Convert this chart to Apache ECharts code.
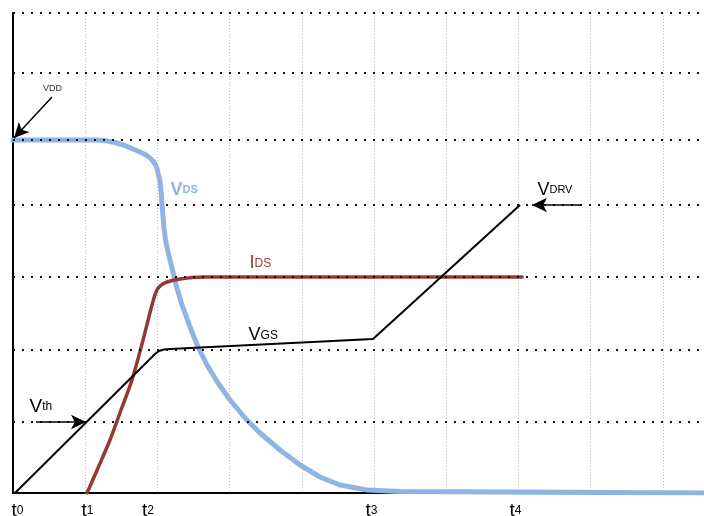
<!DOCTYPE html>
<html><head><meta charset="utf-8">
<script src="https://cdn.jsdelivr.net/npm/echarts@6/dist/echarts.min.js"></script>
<style>html,body{margin:0;padding:0;background:#fff}#c{width:704px;height:516px}</style>
</head><body><div id="c"></div>
<script>
// x unit = one vertical grid division, y unit = arbitrary level
const vdsPoints = [[0,353],[1.163,353],[1.288,352.3],[1.413,350.5],[1.551,347.5],[1.662,344],[1.759,341],[1.842,338],[1.898,335],[1.939,332],[1.967,329],[1.994,325],[2.008,320],[2.029,314],[2.043,308],[2.054,298],[2.064,288],[2.078,276],[2.091,265],[2.112,253],[2.147,241],[2.202,225],[2.258,208],[2.341,188],[2.452,166],[2.562,146],[2.687,128],[2.839,110],[3.006,93],[3.213,75],[3.421,60],[3.698,43],[3.975,28],[4.252,16],[4.529,8],[4.903,3],[5.360,1.5],[9.57,0]];
const idsPoints = [[1.025,0],[1.177,25],[1.343,53],[1.496,83],[1.648,113],[1.801,153],[1.925,188],[1.981,201],[2.036,207],[2.133,211],[2.313,214],[2.632,216],[7.05,216]];
const vgsPoints = [[0.028,0],[1.967,139],[2.022,142],[2.091,143.5],[2.175,144],[4.986,154],[7.022,288]];
const yGridLevels = [71,143,216,288,353,420,480];
const tickNames = ['0','1','2','3','4'];
const tickPositions = [0.062,1.032,1.870,4.965,6.96];
const arrows = [
  {name:'VDD', from:[0.540,396], to:[0.014,355]},
  {name:'Vth', from:[0.319,71], to:[1.011,71]},
  {name:'VDRV', from:[7.881,288], to:[7.188,288]}
];
const BLUE = '#8EB4E3', RED = '#953735';

const chart = echarts.init(document.getElementById('c'), null, {renderer:'canvas'});
const FF = '"Liberation Sans", Arial, sans-serif';
function lbl(coord, fmt, rich, align, valign, extra){
  return {coord: coord, symbol:'circle', symbolSize:1, itemStyle:{color:'rgba(0,0,0,0)'},
    label:Object.assign({show:true, position:[0,0], align:align||'left', verticalAlign:valign||'bottom', formatter:fmt, rich:rich, fontFamily:FF}, extra||{})};
}
const mk = (c, big, small, bold) => ({
  v:{fontSize:big, color:c, fontFamily:FF, fontWeight: bold?'bold':'normal', lineHeight:big},
  s:{fontSize:small, color:c, fontFamily:FF, fontWeight: bold?'bold':'normal', lineHeight:big}
});
chart.setOption({
  animation:false,
  grid:{left:13, right:0, top:13, bottom:23, containLabel:false, outerBoundsMode:'none'},
  xAxis:{type:'value', min:0, max:9.57, interval:1,
    axisLine:{show:true, onZero:false, lineStyle:{color:'#000', width:2}},
    axisTick:{show:false},
    splitLine:{show:true, lineStyle:{color:'#bbbbbb', width:1, type:[1,2]}},
    axisLabel:{show:true, customValues:tickPositions, margin:8,
      formatter:function(v){ const i = tickPositions.indexOf(v); return '{t|t}{s|' + (i>=0?tickNames[i]:'') + '}'; },
      rich:{t:{fontSize:19, color:'#000', fontFamily:FF, lineHeight:19}, s:{fontSize:12, color:'#000', fontFamily:FF, lineHeight:19}}}
  },
  yAxis:{type:'value', min:0, max:480,
    axisLine:{show:true, onZero:false, lineStyle:{color:'#000', width:2}},
    axisTick:{show:false}, axisLabel:{show:false}, splitLine:{show:false}},
  series:[
    {type:'line', data:[], silent:true,
      markLine:{silent:true, symbol:['none','none'], label:{show:false},
        lineStyle:{color:'#111', width:2, type:[2,7]},
        data: yGridLevels.map(v => ({yAxis:v}))}},
    {type:'line', name:'VDS', data:vdsPoints, smooth:false, showSymbol:false, symbol:'none',
      lineStyle:{color:BLUE, width:5, cap:'round', join:'round'}},
    {type:'line', name:'IDS', data:idsPoints, smooth:0.25, showSymbol:false, symbol:'none',
      lineStyle:{color:RED, width:3.5, cap:'round', join:'round'}},
    {type:'line', name:'VGS', data:vgsPoints, smooth:false, showSymbol:false, symbol:'none',
      lineStyle:{color:'#000', width:2, join:'round'}},
    {type:'line', data:[], silent:true,
      markLine:{silent:true, symbol:['none','arrow'], symbolSize:[11,15], label:{show:false},
        lineStyle:{color:'#000', width:1.5, type:'solid'},
        data: arrows.map(a => [{coord:a.from},{coord:a.to}])},
      markPoint:{silent:true, data:[
        lbl([0.554,404], 'VDD', {}, 'center', 'middle', {fontSize:9, color:'#333'}),
        lbl([0.235,76.5], '{v|V}{s|th}', mk('#000',19,12)),
        lbl([7.27,293.5], '{v|V}{s|DRV}', mk('#000',18,11)),
        lbl([2.188,293.5], '{v|V}{s|DS}', mk(BLUE,18,11,true)),
        lbl([3.282,220], '{v|I}{s|DS}', mk(RED,18,12)),
        lbl([3.269,148], '{v|V}{s|GS}', mk('#000',18,12))
      ]}}
  ]
});
</script></body></html>
